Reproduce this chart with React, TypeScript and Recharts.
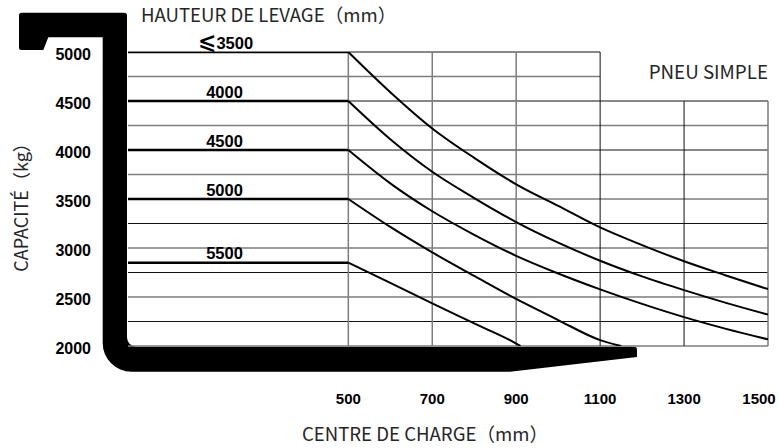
import React from 'react';
import {
  ComposedChart,
  Line,
  XAxis,
  YAxis,
  ReferenceLine,
  ReferenceDot,
  Customized,
} from 'recharts';

// ---- data ----
const capacityTicks = [2000, 2500, 3000, 3500, 4000, 4500, 5000];
const centreTicks = [500, 700, 900, 1100, 1300, 1500];
const capacityGrid = [2000, 2250, 2500, 2750, 3000, 3250, 3500, 3750, 4000, 4250, 4500, 4750, 5000];
const centreGrid = [500, 700, 900, 1100, 1300, 1500];

const mastHeights = ['⩽3500', '4000', '4500', '5000', '5500'];
const ratedCapacity = [5000, 4500, 4000, 3500, 2850];
const flatCentres = [-25, 500];

const centres3500 = [500, 600, 700, 800, 900, 1000, 1100, 1200, 1300, 1400, 1500];
const capacity3500 = [5000, 4590, 4220, 3920, 3650, 3430, 3210, 3030, 2865, 2720, 2580];

const centres4000 = [500, 600, 700, 800, 900, 1000, 1100, 1200, 1300, 1400, 1500];
const capacity4000 = [4500, 4110, 3778, 3510, 3265, 3055, 2870, 2710, 2570, 2440, 2320];

const centres4500 = [500, 600, 700, 800, 900, 1000, 1100, 1200, 1300, 1400, 1500];
const capacity4500 = [4000, 3660, 3375, 3135, 2920, 2740, 2578, 2430, 2295, 2175, 2068];

const centres5000 = [500, 600, 700, 800, 900, 1000, 1100, 1150];
const capacity5000 = [3500, 3215, 2955, 2715, 2480, 2265, 2060, 2000];

const centres5500 = [500, 600, 700, 800, 900, 910];
const capacity5500 = [2850, 2645, 2435, 2230, 2025, 2000];

// ---- derived ----
const toPoints = (xs: number[], ys: number[]) => xs.map((x, i) => ({ x, y: ys[i] }));
const curves = [
  toPoints(centres3500, capacity3500),
  toPoints(centres4000, capacity4000),
  toPoints(centres4500, capacity4500),
  toPoints(centres5000, capacity5000),
  toPoints(centres5500, capacity5500),
];
const flats = ratedCapacity.map((c) => flatCentres.map((x) => ({ x, y: c })));

const X_MIN = -25;
const X_MAX = 1500;
const Y_MIN = 2000;
const Y_MAX = 5000;
const LABEL_X = 205;

const TICK_FONT = '"Liberation Sans", Arial, sans-serif';
const TITLE_FONT = '"Noto Sans CJK SC", "Noto Sans", sans-serif';

const hGray = (v: number) => (v > 3500 ? v % 500 === 250 : v % 500 === 0);
const vGray = (v: number) => v <= 900 || v === 1500;

const XTick = (props: any) => {
  const { x, y, payload } = props;
  return (
    <text
      x={Math.min(x, 759)}
      y={y}
      dy={11}
      textAnchor="middle"
      fontFamily={TICK_FONT}
      fontWeight="bold"
      fontSize={15}
      fill="#000"
    >
      {payload.value}
    </text>
  );
};

const YTick = (props: any) => {
  const { x, y, payload } = props;
  return (
    <text x={x} y={y} dy={8} textAnchor="end" fontFamily={TICK_FONT} fontWeight="bold" fontSize={16} fill="#000">
      {payload.value}
    </text>
  );
};

const Decor = () => (
  <g>
    {/* fork */}
    <path
      d="M 19 15.5 Q 19 12.7 22 12.7 L 124 12.7 Q 127 12.7 127 15.5 L 127 337.2 A 9.5 9.5 0 0 0 136.5 346.7 L 634 346.7 Q 637 346.7 637 349.7 L 637 357 L 510 371.7 L 131.4 371.7 A 28.7 28.7 0 0 1 102.7 343 L 102.7 37.3 L 48.3 37.3 L 43.3 50 L 21.5 50 Q 19 50 19 47.5 Z"
      fill="#000"
    />
    <text x={141} y={22} fontFamily={TITLE_FONT} fontSize={18.6} fill="#262626">
      HAUTEUR DE LEVAGE（mm）
    </text>
    <text x={768} y={79} textAnchor="end" fontFamily={TITLE_FONT} fontSize={18.8} fill="#262626">
      PNEU SIMPLE
    </text>
    <text
      transform="translate(28,203) rotate(-90)"
      textAnchor="middle"
      fontFamily={TITLE_FONT}
      fontSize={18}
      fill="#262626"
    >
      CAPACITÉ（kg）
    </text>
    <text x={425} y={441} textAnchor="middle" fontFamily={TITLE_FONT} fontSize={18.6} fill="#262626">
      CENTRE DE CHARGE（mm）
    </text>
  </g>
);

export default function App() {
  return (
    <div style={{ position: 'absolute', left: 0, top: 0, width: 779, height: 448, background: '#fff' }}>
      <ComposedChart width={779} height={448} margin={{ top: 52, right: 11, bottom: 0, left: 0 }}>
        <XAxis
          type="number"
          dataKey="x"
          domain={[X_MIN, X_MAX]}
          ticks={centreTicks}
          interval={0}
          axisLine={false}
          tickLine={false}
          tickSize={0}
          tickMargin={47}
          height={102}
          tick={XTick}
          allowDataOverflow
        />
        <YAxis
          type="number"
          dataKey="y"
          domain={[Y_MIN, Y_MAX]}
          ticks={capacityTicks}
          interval={0}
          axisLine={false}
          tickLine={false}
          tickSize={0}
          tickMargin={37}
          width={128}
          tick={YTick}
          allowDataOverflow
        />
        {capacityGrid.map((v) => (
          <ReferenceLine
            key={'h' + v}
            segment={[
              { x: X_MIN, y: v },
              { x: v > 4500 ? 1100 : X_MAX, y: v },
            ]}
            stroke={hGray(v) ? '#7d7d7d' : '#111'}
            strokeWidth={hGray(v) ? 1.5 : 1}
          />
        ))}
        {centreGrid.map((v) => (
          <ReferenceLine
            key={'v' + v}
            segment={[
              { x: v, y: Y_MIN },
              { x: v, y: v > 1100 ? 4500 : Y_MAX },
            ]}
            stroke={vGray(v) ? '#7d7d7d' : '#111'}
            strokeWidth={vGray(v) ? 1.5 : 1}
          />
        ))}
        {flats.map((d, i) => (
          <Line
            key={'f' + i}
            data={d}
            dataKey="y"
            type="linear"
            stroke="#000"
            strokeWidth={2.4}
            dot={false}
            activeDot={false}
            isAnimationActive={false}
          />
        ))}
        {curves.map((d, i) => (
          <Line
            key={'c' + i}
            data={d}
            dataKey="y"
            type="monotone"
            stroke="#000"
            strokeWidth={2}
            dot={false}
            activeDot={false}
            isAnimationActive={false}
          />
        ))}
        {mastHeights.map((h, i) => (
          <ReferenceDot
            key={'l' + i}
            x={LABEL_X}
            y={ratedCapacity[i]}
            r={0}
            fill="none"
            stroke="none"
            label={{
              content: (p: any) => {
                const vb = p.viewBox || {};
                const cx = (vb.x || 0) + (vb.width || 0) / 2;
                const cy = (vb.y || 0) - 3.5;
                const isFirst = h.charAt(0) === '⩽';
                return (
                  <text
                    x={isFirst ? cx + 1 : cx}
                    y={cy}
                    textAnchor="middle"
                    fontFamily={TICK_FONT}
                    fontWeight="bold"
                    fontSize={16.5}
                    fill="#000"
                  >
                    {isFirst ? (
                      <>
                        <tspan fontFamily='"DejaVu Sans", "Noto Sans CJK SC", sans-serif' fontWeight="bold" fontSize={22}>
                          {h.charAt(0)}
                        </tspan>
                        <tspan>{h.slice(1)}</tspan>
                      </>
                    ) : (
                      h
                    )}
                  </text>
                );
              },
            }}
          />
        ))}
        <Customized component={Decor} />
      </ComposedChart>
    </div>
  );
}
